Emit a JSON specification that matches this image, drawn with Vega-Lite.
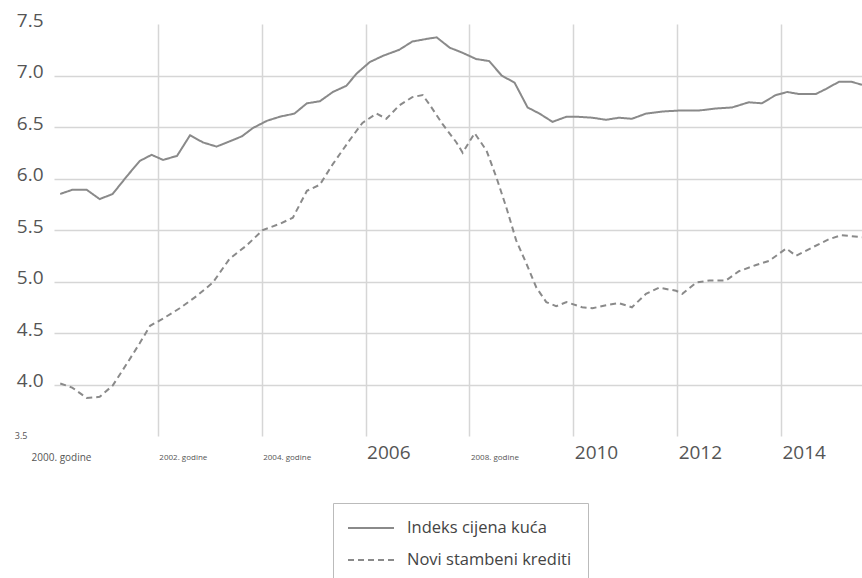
{
  "$schema": "https://vega.github.io/schema/vega-lite/v6.json",
  "autosize": {"type": "none"},
  "padding": {"left": 54, "top": 24, "right": 0, "bottom": 142},
  "width": 808,
  "height": 412,
  "background": "white",
  "config": {
    "view": {"stroke": null},
    "font": "Open Sans"
  },
  "data": {
    "values": [
      {"year": 2000.12, "series": "Indeks cijena kuća", "value": 5.85},
      {"year": 2000.35, "series": "Indeks cijena kuća", "value": 5.89},
      {"year": 2000.63, "series": "Indeks cijena kuća", "value": 5.89},
      {"year": 2000.88, "series": "Indeks cijena kuća", "value": 5.80},
      {"year": 2001.13, "series": "Indeks cijena kuća", "value": 5.85},
      {"year": 2001.40, "series": "Indeks cijena kuća", "value": 6.02},
      {"year": 2001.65, "series": "Indeks cijena kuća", "value": 6.17},
      {"year": 2001.88, "series": "Indeks cijena kuća", "value": 6.23},
      {"year": 2002.10, "series": "Indeks cijena kuća", "value": 6.18},
      {"year": 2002.37, "series": "Indeks cijena kuća", "value": 6.22},
      {"year": 2002.62, "series": "Indeks cijena kuća", "value": 6.42},
      {"year": 2002.87, "series": "Indeks cijena kuća", "value": 6.35},
      {"year": 2003.13, "series": "Indeks cijena kuća", "value": 6.31},
      {"year": 2003.38, "series": "Indeks cijena kuća", "value": 6.36},
      {"year": 2003.62, "series": "Indeks cijena kuća", "value": 6.41},
      {"year": 2003.83, "series": "Indeks cijena kuća", "value": 6.49},
      {"year": 2004.10, "series": "Indeks cijena kuća", "value": 6.56},
      {"year": 2004.35, "series": "Indeks cijena kuća", "value": 6.60},
      {"year": 2004.63, "series": "Indeks cijena kuća", "value": 6.63},
      {"year": 2004.87, "series": "Indeks cijena kuća", "value": 6.73},
      {"year": 2005.12, "series": "Indeks cijena kuća", "value": 6.75},
      {"year": 2005.37, "series": "Indeks cijena kuća", "value": 6.84},
      {"year": 2005.63, "series": "Indeks cijena kuća", "value": 6.90},
      {"year": 2005.83, "series": "Indeks cijena kuća", "value": 7.02},
      {"year": 2006.08, "series": "Indeks cijena kuća", "value": 7.13},
      {"year": 2006.33, "series": "Indeks cijena kuća", "value": 7.19},
      {"year": 2006.65, "series": "Indeks cijena kuća", "value": 7.25},
      {"year": 2006.90, "series": "Indeks cijena kuća", "value": 7.33},
      {"year": 2007.23, "series": "Indeks cijena kuća", "value": 7.36},
      {"year": 2007.37, "series": "Indeks cijena kuća", "value": 7.37},
      {"year": 2007.62, "series": "Indeks cijena kuća", "value": 7.27},
      {"year": 2007.87, "series": "Indeks cijena kuća", "value": 7.22},
      {"year": 2008.13, "series": "Indeks cijena kuća", "value": 7.16},
      {"year": 2008.38, "series": "Indeks cijena kuća", "value": 7.14},
      {"year": 2008.62, "series": "Indeks cijena kuća", "value": 7.00},
      {"year": 2008.87, "series": "Indeks cijena kuća", "value": 6.93},
      {"year": 2009.12, "series": "Indeks cijena kuća", "value": 6.69},
      {"year": 2009.35, "series": "Indeks cijena kuća", "value": 6.63},
      {"year": 2009.60, "series": "Indeks cijena kuća", "value": 6.55},
      {"year": 2009.87, "series": "Indeks cijena kuća", "value": 6.60},
      {"year": 2010.06, "series": "Indeks cijena kuća", "value": 6.60},
      {"year": 2010.37, "series": "Indeks cijena kuća", "value": 6.59},
      {"year": 2010.63, "series": "Indeks cijena kuća", "value": 6.57},
      {"year": 2010.88, "series": "Indeks cijena kuća", "value": 6.59},
      {"year": 2011.13, "series": "Indeks cijena kuća", "value": 6.58},
      {"year": 2011.40, "series": "Indeks cijena kuća", "value": 6.63},
      {"year": 2011.71, "series": "Indeks cijena kuća", "value": 6.65},
      {"year": 2012.04, "series": "Indeks cijena kuća", "value": 6.66},
      {"year": 2012.42, "series": "Indeks cijena kuća", "value": 6.66},
      {"year": 2012.75, "series": "Indeks cijena kuća", "value": 6.68},
      {"year": 2013.06, "series": "Indeks cijena kuća", "value": 6.69},
      {"year": 2013.38, "series": "Indeks cijena kuća", "value": 6.74},
      {"year": 2013.63, "series": "Indeks cijena kuća", "value": 6.73},
      {"year": 2013.90, "series": "Indeks cijena kuća", "value": 6.81},
      {"year": 2014.12, "series": "Indeks cijena kuća", "value": 6.84},
      {"year": 2014.35, "series": "Indeks cijena kuća", "value": 6.82},
      {"year": 2014.67, "series": "Indeks cijena kuća", "value": 6.82},
      {"year": 2014.87, "series": "Indeks cijena kuća", "value": 6.87},
      {"year": 2015.12, "series": "Indeks cijena kuća", "value": 6.94},
      {"year": 2015.35, "series": "Indeks cijena kuća", "value": 6.94},
      {"year": 2015.56, "series": "Indeks cijena kuća", "value": 6.91},
      {"year": 2000.12, "series": "Novi stambeni krediti", "value": 4.01},
      {"year": 2000.35, "series": "Novi stambeni krediti", "value": 3.97},
      {"year": 2000.63, "series": "Novi stambeni krediti", "value": 3.87},
      {"year": 2000.88, "series": "Novi stambeni krediti", "value": 3.88},
      {"year": 2001.13, "series": "Novi stambeni krediti", "value": 3.99},
      {"year": 2001.40, "series": "Novi stambeni krediti", "value": 4.20},
      {"year": 2001.65, "series": "Novi stambeni krediti", "value": 4.40},
      {"year": 2001.85, "series": "Novi stambeni krediti", "value": 4.57},
      {"year": 2002.10, "series": "Novi stambeni krediti", "value": 4.64},
      {"year": 2002.42, "series": "Novi stambeni krediti", "value": 4.74},
      {"year": 2002.75, "series": "Novi stambeni krediti", "value": 4.86},
      {"year": 2003.06, "series": "Novi stambeni krediti", "value": 4.99},
      {"year": 2003.38, "series": "Novi stambeni krediti", "value": 5.22},
      {"year": 2003.71, "series": "Novi stambeni krediti", "value": 5.35},
      {"year": 2004.02, "series": "Novi stambeni krediti", "value": 5.50},
      {"year": 2004.35, "series": "Novi stambeni krediti", "value": 5.56},
      {"year": 2004.60, "series": "Novi stambeni krediti", "value": 5.62},
      {"year": 2004.87, "series": "Novi stambeni krediti", "value": 5.88},
      {"year": 2005.12, "series": "Novi stambeni krediti", "value": 5.94},
      {"year": 2005.37, "series": "Novi stambeni krediti", "value": 6.14},
      {"year": 2005.69, "series": "Novi stambeni krediti", "value": 6.37},
      {"year": 2005.94, "series": "Novi stambeni krediti", "value": 6.54},
      {"year": 2006.21, "series": "Novi stambeni krediti", "value": 6.63},
      {"year": 2006.40, "series": "Novi stambeni krediti", "value": 6.58},
      {"year": 2006.65, "series": "Novi stambeni krediti", "value": 6.71},
      {"year": 2006.90, "series": "Novi stambeni krediti", "value": 6.79},
      {"year": 2007.10, "series": "Novi stambeni krediti", "value": 6.81},
      {"year": 2007.23, "series": "Novi stambeni krediti", "value": 6.72},
      {"year": 2007.48, "series": "Novi stambeni krediti", "value": 6.53},
      {"year": 2007.75, "series": "Novi stambeni krediti", "value": 6.35},
      {"year": 2007.87, "series": "Novi stambeni krediti", "value": 6.25},
      {"year": 2008.10, "series": "Novi stambeni krediti", "value": 6.44},
      {"year": 2008.33, "series": "Novi stambeni krediti", "value": 6.27},
      {"year": 2008.52, "series": "Novi stambeni krediti", "value": 6.01},
      {"year": 2008.71, "series": "Novi stambeni krediti", "value": 5.72},
      {"year": 2008.90, "series": "Novi stambeni krediti", "value": 5.40},
      {"year": 2009.10, "series": "Novi stambeni krediti", "value": 5.17},
      {"year": 2009.29, "series": "Novi stambeni krediti", "value": 4.94},
      {"year": 2009.48, "series": "Novi stambeni krediti", "value": 4.80},
      {"year": 2009.67, "series": "Novi stambeni krediti", "value": 4.76},
      {"year": 2009.87, "series": "Novi stambeni krediti", "value": 4.80},
      {"year": 2010.17, "series": "Novi stambeni krediti", "value": 4.75},
      {"year": 2010.37, "series": "Novi stambeni krediti", "value": 4.74},
      {"year": 2010.63, "series": "Novi stambeni krediti", "value": 4.77},
      {"year": 2010.88, "series": "Novi stambeni krediti", "value": 4.79},
      {"year": 2011.13, "series": "Novi stambeni krediti", "value": 4.75},
      {"year": 2011.40, "series": "Novi stambeni krediti", "value": 4.88},
      {"year": 2011.65, "series": "Novi stambeni krediti", "value": 4.94},
      {"year": 2011.98, "series": "Novi stambeni krediti", "value": 4.91},
      {"year": 2012.10, "series": "Novi stambeni krediti", "value": 4.88},
      {"year": 2012.37, "series": "Novi stambeni krediti", "value": 4.99},
      {"year": 2012.62, "series": "Novi stambeni krediti", "value": 5.01},
      {"year": 2012.94, "series": "Novi stambeni krediti", "value": 5.01},
      {"year": 2013.19, "series": "Novi stambeni krediti", "value": 5.10},
      {"year": 2013.52, "series": "Novi stambeni krediti", "value": 5.16},
      {"year": 2013.77, "series": "Novi stambeni krediti", "value": 5.20},
      {"year": 2014.10, "series": "Novi stambeni krediti", "value": 5.32},
      {"year": 2014.29, "series": "Novi stambeni krediti", "value": 5.25},
      {"year": 2014.60, "series": "Novi stambeni krediti", "value": 5.33},
      {"year": 2014.92, "series": "Novi stambeni krediti", "value": 5.41},
      {"year": 2015.17, "series": "Novi stambeni krediti", "value": 5.45},
      {"year": 2015.56, "series": "Novi stambeni krediti", "value": 5.43}
    ]
  },
  "mark": {"type": "line", "color": "#8a8a8a", "strokeWidth": 2, "clip": true},
  "encoding": {
    "x": {
      "field": "year",
      "type": "quantitative",
      "scale": {"domain": [2000, 2015.56], "nice": false, "zero": false},
      "axis": {
        "title": null,
        "values": [2000, 2002, 2004, 2006, 2008, 2010, 2012, 2014],
        "domain": false,
        "ticks": false,
        "format": "d",
        "labelExpr": "(datum.value == 2006 || datum.value >= 2010) ? datum.label : datum.label + '. godine'",
        "labelFont": "Open Sans",
        "labelColor": "#555555",
        "labelAlign": {"condition": {"test": "datum.value == 2000", "value": "center"}, "value": "left"},
        "labelOffset": {"condition": {"test": "datum.value == 2000", "value": 7}, "value": 1},
        "labelBaseline": "middle",
        "labelFontSize": {"condition": [{"test": "datum.value == 2006 || datum.value >= 2010", "value": 19}, {"test": "datum.value == 2000", "value": 10}], "value": 8},
        "labelPadding": {"condition": {"test": "datum.value == 2006 || datum.value >= 2010", "value": 16}, "value": 21},
        "labelOverlap": false,
        "labelFlush": false,
        "grid": true,
        "gridColor": "#d6d6d6",
        "gridWidth": 1.5,
        "gridOpacity": {"condition": {"test": "datum.value == 2000", "value": 0}, "value": 1}
      }
    },
    "y": {
      "field": "value",
      "type": "quantitative",
      "scale": {"domain": [3.5, 7.5], "nice": false, "zero": false},
      "axis": {
        "title": null,
        "values": [3.5, 4, 4.5, 5, 5.5, 6, 6.5, 7, 7.5],
        "format": ".1f",
        "domain": false,
        "ticks": false,
        "labelFont": "Open Sans",
        "labelColor": "#555555",
        "labelFontSize": {"condition": {"test": "datum.value == 3.5", "value": 9}, "value": 19},
        "labelBaseline": {"condition": {"test": "datum.value == 3.5", "value": "middle"}, "value": "alphabetic"},
        "labelOffset": {"condition": {"test": "datum.value == 3.5", "value": -1}, "value": 2},
        "labelPadding": {"condition": {"test": "datum.value == 3.5", "value": 27}, "value": 11},
        "labelOverlap": false,
        "labelFlush": false,
        "grid": true,
        "gridColor": "#d6d6d6",
        "gridWidth": 1.5,
        "gridOpacity": {"condition": {"test": "datum.value == 3.5 || datum.value == 7.5", "value": 0}, "value": 1}
      }
    },
    "strokeDash": {
      "field": "series",
      "type": "nominal",
      "scale": {"domain": ["Indeks cijena kuća", "Novi stambeni krediti"], "range": [[1, 0], [6, 4]]},
      "legend": {
        "title": null,
        "orient": "none",
        "legendX": 279,
        "legendY": 479,
        "direction": "vertical",
        "strokeColor": "#bbbbbb",
        "padding": 16,
        "symbolType": "M-2.875,0H2.875",
        "symbolSize": 256,
        "symbolOffset": 13,
        "symbolStrokeWidth": 2,
        "symbolStrokeColor": "#8a8a8a",
        "symbolFillColor": "transparent",
        "labelFont": "Open Sans",
        "labelFontSize": 16.5,
        "labelColor": "#444444",
        "labelOffset": 27,
        "labelLimit": 400,
        "rowPadding": 14
      }
    }
  }
}
